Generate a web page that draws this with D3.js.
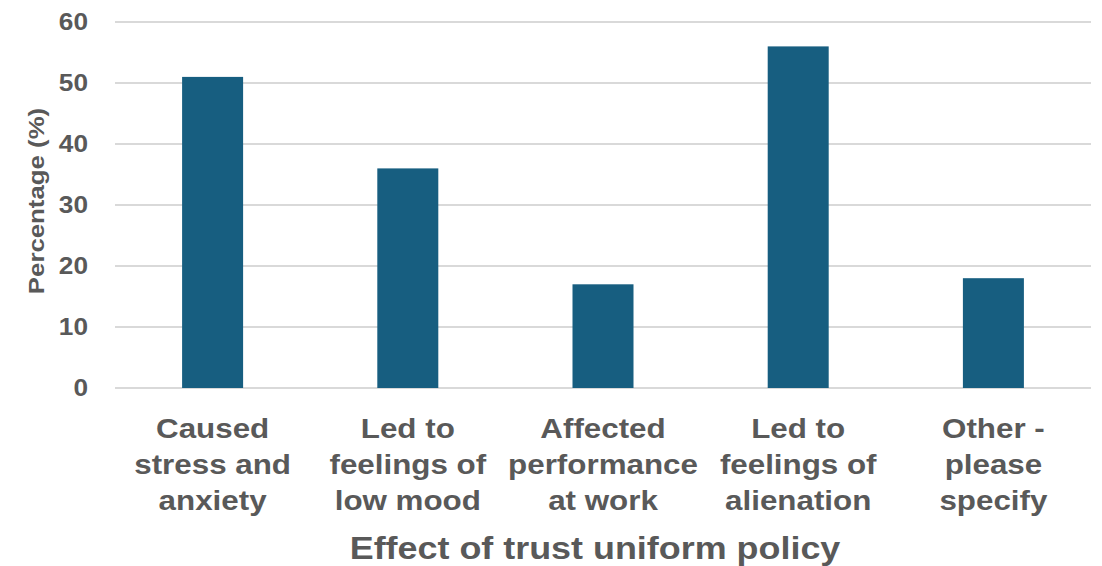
<!DOCTYPE html>
<html>
<head>
<meta charset="utf-8">
<script src="https://cdn.jsdelivr.net/npm/d3@7"></script>
<style>
  html, body { margin: 0; padding: 0; background: #fff; }
  svg { display: block; }
  text { font-family: "Liberation Sans", Arial, sans-serif; font-weight: bold; fill: #595959; }
</style>
</head>
<body>
<svg id="chart" width="1102" height="566"></svg>
<script>
// Categories (each label split into its display lines)
const categories = [
  ["Caused", "stress and", "anxiety"],
  ["Led to", "feelings of", "low mood"],
  ["Affected", "performance", "at work"],
  ["Led to", "feelings of", "alienation"],
  ["Other -", "please", "specify"]
];
// Percentage of respondents per effect
const values = [51, 36, 17, 56, 18];
// Y-axis ticks
const yTicks = [0, 10, 20, 30, 40, 50, 60];

const xTitle = "Effect of trust uniform policy";
const yTitle = "Percentage (%)";

const svg = d3.select("#chart");
const margin = { left: 115, right: 11, top: 22, bottom: 178 };
const W = 1102, H = 566;
const x0 = margin.left, x1 = W - margin.right;
const yTop = margin.top, yBottom = H - margin.bottom;

const keys = categories.map((c, i) => i);
const x = d3.scaleBand()
  .domain(keys)
  .range([x0, x1])
  .paddingInner(0.6875)
  .paddingOuter(0.34375);

const y = d3.scaleLinear().domain([0, 60]).range([yBottom, yTop]);

// Text is drawn slightly wide, so stretch glyphs along the reading direction
const stretch = 1.14;

// Gridlines
svg.append("g")
  .selectAll("line")
  .data(yTicks)
  .join("line")
  .attr("x1", x0).attr("x2", x1)
  .attr("y1", d => y(d)).attr("y2", d => y(d))
  .attr("stroke", "#d9d9d9")
  .attr("stroke-width", 2);

// Y tick labels
svg.append("g")
  .selectAll("text")
  .data(yTicks)
  .join("text")
  .attr("transform", d => `translate(88,${y(d)}) scale(${stretch},1)`)
  .attr("text-anchor", "end")
  .attr("dy", "0.35em")
  .style("font-size", "23px")
  .text(d => d);

// Bars
svg.append("g")
  .selectAll("rect")
  .data(values)
  .join("rect")
  .attr("x", (d, i) => x(i))
  .attr("width", x.bandwidth())
  .attr("y", d => y(d))
  .attr("height", d => y(0) - y(d))
  .attr("fill", "#175e80");

// Category labels
const lineGap = 36;
const firstBaseline = yBottom + 50;
const cat = svg.append("g")
  .selectAll("g")
  .data(categories)
  .join("g")
  .attr("transform", (d, i) => `translate(${x(i) + x.bandwidth() / 2},0)`);
cat.selectAll("text")
  .data(d => d)
  .join("text")
  .attr("transform", (d, j) => `translate(0,${firstBaseline + j * lineGap}) scale(${stretch},1)`)
  .attr("text-anchor", "middle")
  .style("font-size", "27.5px")
  .text(d => d);

// X-axis title
svg.append("text")
  .attr("transform", `translate(${(x0 + x1) / 2 - 8},${H - 7}) scale(${stretch},1)`)
  .attr("text-anchor", "middle")
  .style("font-size", "31.5px")
  .text(xTitle);

// Y-axis title
svg.append("text")
  .attr("transform", `translate(44,${(yTop + yBottom) / 2 - 4}) rotate(-90) scale(1.2,1)`)
  .attr("text-anchor", "middle")
  .style("font-size", "21.5px")
  .text(yTitle);
</script>
</body>
</html>
